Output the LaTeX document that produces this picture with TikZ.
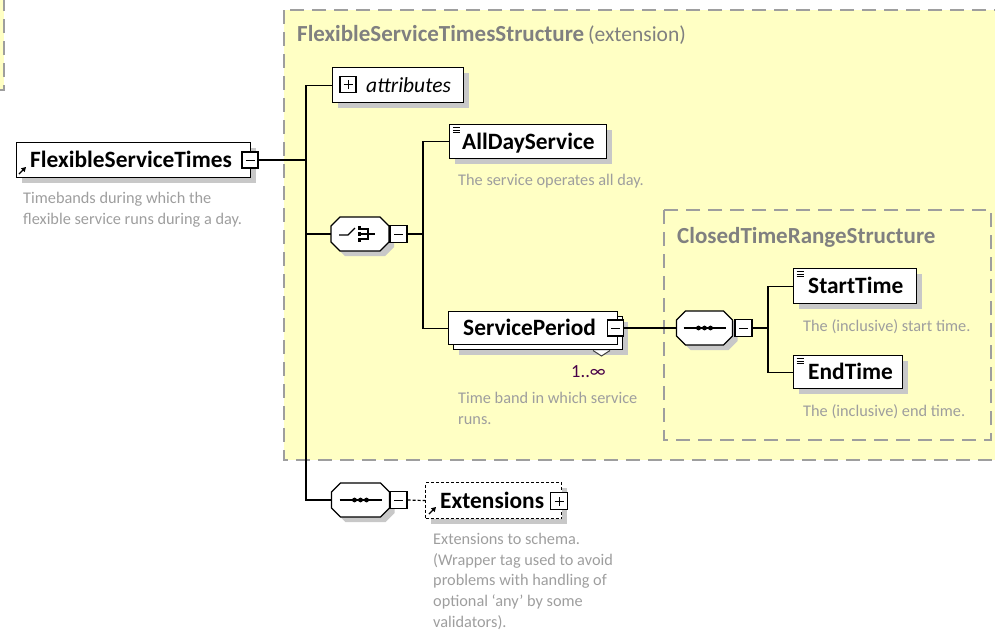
\documentclass[tikz,border=0pt]{standalone}
\usepackage{fontspec}
\setmainfont{Carlito}
\usetikzlibrary{calc,arrows.meta,shadows}

\definecolor{structfill}{RGB}{255,255,196}
\definecolor{structline}{RGB}{158,158,158}
\definecolor{titlegray}{RGB}{128,128,128}
\definecolor{descgray}{RGB}{158,158,158}
\definecolor{shadowgray}{RGB}{200,200,200}
\definecolor{occurs}{RGB}{72,0,72}

\tikzset{
  structbox/.style={draw=structline, fill=structfill, line width=1.3pt, dash pattern=on 14pt off 8pt},
  innerbox/.style={draw=structline, line width=1.3pt, dash pattern=on 14pt off 8pt},
  boxshadow/.style={drop shadow={shadow xshift=5pt, shadow yshift=-5pt, fill=shadowgray, draw=none, opacity=1}},
  elembox/.style={draw=black, line width=1.3pt, fill=white, inner sep=0pt, anchor=north west, boxshadow},
  nametext/.style={anchor=base west, inner sep=0pt, font=\fontsize{23.4}{26}\selectfont\bfseries},
  desctext/.style={anchor=base west, inner sep=0pt, align=left, text=descgray, font=\fontsize{16.3}{20.6}\selectfont},
  titletext/.style={anchor=base west, inner sep=0pt, text=titlegray, font=\fontsize{23}{26}\selectfont\bfseries},
  btn/.style={draw=black, line width=1.1pt, fill=white, inner sep=0pt, minimum width=16pt, minimum height=16pt},
  minusbtn/.style={btn, path picture={\draw[line width=1pt] ([xshift=-4.5pt]path picture bounding box.center) -- ([xshift=4.5pt]path picture bounding box.center);}},
  plusbtn/.style={btn, path picture={\draw[line width=1pt] ([xshift=-4.5pt]path picture bounding box.center) -- ([xshift=4.5pt]path picture bounding box.center) ([yshift=-4.5pt]path picture bounding box.center) -- ([yshift=4.5pt]path picture bounding box.center);}},
  conn/.style={draw=black, line width=1.2pt},
  anchorbox/.style={inner sep=0pt, minimum width=#1, minimum height=34pt},
  octo/.style={draw=black, line width=1.3pt, fill=white},
  refarrow/.style={line width=1.3pt, -{Triangle[length=4.5pt,width=5pt]}},
}

% chamfered compositor outline with its shadow: centre x, centre y, width
\newcommand\compositorshape[3]{%
  \fill[shadowgray] ({#1-#3/2+9+5},{#2-17+5}) -- ++({#3-18},0) -- ++(9,9) -- ++(0,16) -- ++(-9,9) -- ++({-(#3-18)},0) -- ++(-9,-9) -- ++(0,-16) -- cycle;
  \draw[octo] ({#1-#3/2+9},{#2-17}) -- ++({#3-18},0) -- ++(9,9) -- ++(0,16) -- ++(-9,9) -- ++({-(#3-18)},0) -- ++(-9,-9) -- ++(0,-16) -- cycle;
}
% sequence glyph: a line through three dots
\newcommand\seqglyph[2]{%
  \draw[line width=1.2pt] ({#1-21},#2) -- ({#1+21},#2);
  \foreach \dx in {-6,0,6} \fill ({#1+\dx},#2) circle (2.4pt);
}
% choice glyph: an open switch followed by the branch bracket
\newcommand\choiceglyph[2]{%
  \draw[line width=1.2pt] ({#1-21},{#2+1}) -- ({#1-12},{#2+1}) -- ({#1-5},{#2-6});
  \foreach \dy in {-6,0,6} \fill ({#1-2.5},{#2+\dy-1.7}) rectangle ++(3.4,3.4);
  \draw[line width=1.2pt] ({#1+1},{#2-5}) -- ({#1+8},{#2-5}) -- ({#1+8},{#2+5}) -- ({#1+1},{#2+5});
  \draw[line width=1.2pt] ({#1+1},#2) -- ({#1+15},#2);
}
% "simple content" marker in the corner of an element box
\newcommand\simplemark[2]{%
  \foreach \dy in {0,2.6,5.2} \draw[line width=0.8pt] (#1,{#2+\dy}) -- ({#1+7},{#2+\dy});
}

\begin{document}
\begin{tikzpicture}[x=1pt,y=-1pt]
\useasboundingbox (0,0) rectangle (995,630);

% neighbouring structure at the left edge
\fill[structfill] (-5,-5) rectangle (4,90);
\draw[structline, line width=1.3pt, dash pattern=on 14pt off 8pt] (-5,90) -- (4,90) -- (4,-5);

% FlexibleServiceTimesStructure extension area
\path[structbox] (284,10) rectangle (1010,460);
\node[titletext] (ttl) at (297,41) {FlexibleServiceTimesStructure\,{\fontsize{21.5}{26}\selectfont\mdseries(extension)}};

% ClosedTimeRangeStructure group
\path[innerbox] (664,210) rectangle (991,440);
\node[titletext] (ttl2) at (677,243) {ClosedTimeRangeStructure};

% root element
\node[elembox, minimum width=234pt, minimum height=35pt] (fst) at (16,142) {};
\node[nametext] (fstname) at ($(fst.west)+(14,7.5)$) {FlexibleServiceTimes};
\draw[refarrow] (19,174) -- (26,167);
\node[minusbtn] (fstbtn) at (250,160) {};
\node[desctext] (fstdesc) at (23,224) {Timebands during which the\\flexible service runs during a day.};

% attributes
\node[elembox, minimum width=131pt, minimum height=35pt] (attr) at (332,67) {};
\node[plusbtn] (attrbtn) at (348,84.5) {};
\node[nametext, font=\fontsize{21.5}{24}\selectfont\itshape] (attrname) at ($(attr.west)+(34,7)$) {attributes};

% choice compositor
\compositorshape{360}{234}{58}
\node[anchorbox=58pt] (ch) at (360,234) {};
\choiceglyph{360}{234}
\node[minusbtn, minimum width=17pt, minimum height=17pt] (chbtn) at (398.5,234) {};

% AllDayService
\node[elembox, minimum width=157pt, minimum height=34pt] (ads) at (449,124) {};
\simplemark{453}{127.5}
\node[nametext] (adsname) at ($(ads.west)+(13,7.5)$) {AllDayService};
\node[desctext] (adsdesc) at (458,185) {The service operates all day.};

% ServicePeriod (repeating element)
\node[elembox, minimum width=169pt, minimum height=33pt] (spback) at (453,316) {};
\draw[black!75, line width=1pt, fill=white] (593,350.5) -- (601.5,356) -- (610,350.5);
\node[draw=black, line width=1.3pt, fill=white, inner sep=0pt, anchor=north west, minimum width=169pt, minimum height=33pt] (sp) at (448,311) {};
\node[nametext] (spname) at ($(sp.west)+(15,7.5)$) {ServicePeriod};
\node[minusbtn] (spbtn) at (615.5,328) {};
\node[anchor=base west, inner sep=0pt, text=occurs, font=\fontsize{18.5}{22}\selectfont] (spocc) at (571,377) {1..∞};
\node[desctext] (spdesc) at (458,424) {Time band in which service\\runs.};

% sequence compositor inside ClosedTimeRangeStructure
\compositorshape{704.5}{328}{56}
\node[anchorbox=56pt] (seqa) at (704.5,328) {};
\seqglyph{704.5}{328}
\node[minusbtn, minimum width=17pt, minimum height=17pt] (seqabtn) at (743.5,328) {};

% StartTime / EndTime
\node[elembox, minimum width=123pt, minimum height=35pt] (st) at (793,268) {};
\simplemark{796.5}{271.5}
\node[nametext] (stname) at ($(st.west)+(15,7.5)$) {StartTime};
\node[desctext] (stdesc) at (803,331) {The (inclusive) start time.};

\node[elembox, minimum width=109pt, minimum height=33pt] (et) at (793,355) {};
\simplemark{796.5}{358.5}
\node[nametext] (etname) at ($(et.west)+(15,7.5)$) {EndTime};
\node[desctext] (etdesc) at (803,416) {The (inclusive) end time.};

% sequence compositor for Extensions
\compositorshape{360.5}{500}{58}
\node[anchorbox=58pt] (seqb) at (360.5,500) {};
\seqglyph{360.5}{500}
\node[minusbtn, minimum width=17pt, minimum height=17pt] (seqbbtn) at (398.5,500) {};

% Extensions (optional element)
\node[elembox, minimum width=136pt, minimum height=36pt, dash pattern=on 3pt off 2pt, line width=1.1pt] (ext) at (425,482) {};
\node[nametext] (extname) at ($(ext.west)+(15,7.5)$) {Extensions};
\draw[refarrow] (429,514) -- (436,507);
\node[plusbtn, minimum width=17pt, minimum height=17pt] (extbtn) at (559,501) {};
\node[desctext] (extdesc) at (433,627) {Extensions to schema.\\(Wrapper tag used to avoid\\problems with handling of\\optional `any' by some\\validators).};

% connectors
\coordinate (trunka) at (306,160);
\coordinate (trunkb) at (423,234);
\coordinate (trunkc) at (768,328);
\draw[conn] (fstbtn.east) -- (trunka);
\draw[conn] (trunka) |- (attr.west);
\draw[conn] (trunka) |- (ch.west);
\draw[conn] (trunka) |- (seqb.west);
\draw[conn] (chbtn.east) -- (trunkb);
\draw[conn] (trunkb) |- (ads.west);
\draw[conn] (trunkb) |- (sp.west);
\draw[conn] (spbtn.east) -- (seqa.west);
\draw[conn] (seqabtn.east) -- (trunkc);
\draw[conn] (trunkc) |- (st.west);
\draw[conn] (trunkc) |- (et.west);
\draw[conn, dash pattern=on 3pt off 2pt] (seqbbtn.east) -- (ext.west);
\end{tikzpicture}
\end{document}
